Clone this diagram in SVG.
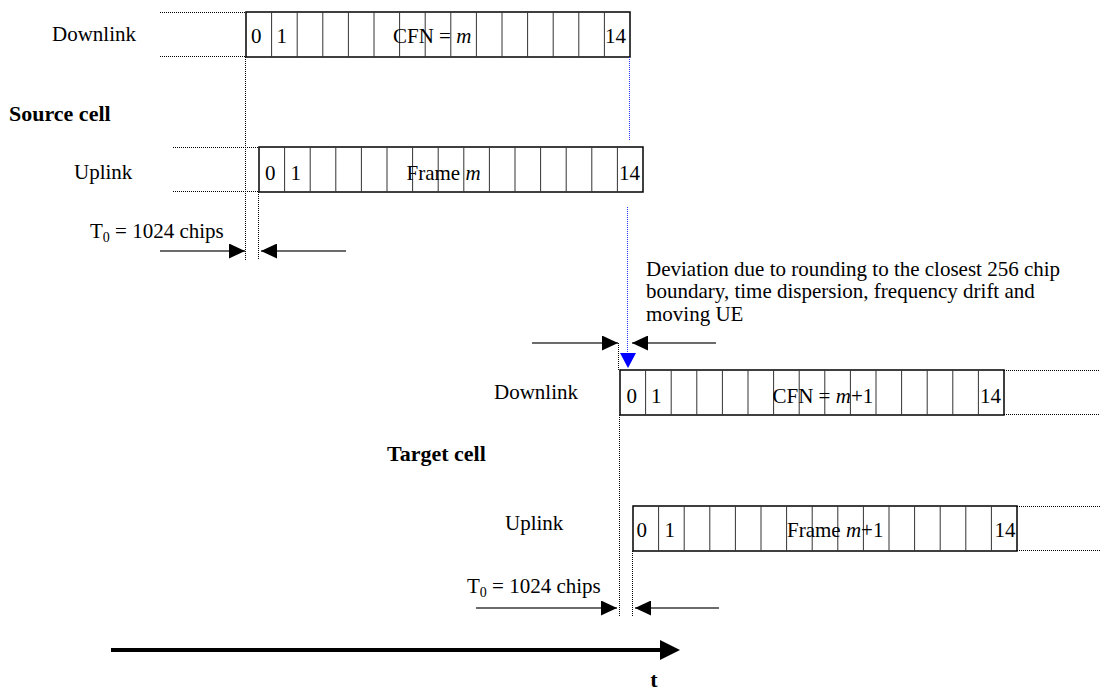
<svg xmlns="http://www.w3.org/2000/svg" width="1101" height="691" viewBox="0 0 1101 691">
<style>
text{font-family:"Liberation Serif","Times New Roman",serif;font-size:21px;fill:#000}
.b{font-weight:bold;font-size:22px}
.i{font-style:italic}
.fr{fill:#fff;stroke:#000;stroke-width:1.5}
.dv{fill:none;stroke:#333;stroke-width:1}
.dot{fill:none;stroke:#000;stroke-width:1;stroke-dasharray:1 1}
.bdot{fill:none;stroke:#2233ff;stroke-width:1;stroke-dasharray:1 1}
.ar{fill:none;stroke:#3a3a3a;stroke-width:1.3;marker-end:url(#ah)}
</style>
<defs>
<marker id="ah" markerUnits="userSpaceOnUse" markerWidth="16" markerHeight="15" refX="16" refY="7.5" orient="auto"><path d="M0,0L16,7.5L0,15z" fill="#000"/></marker>
<marker id="bah" markerUnits="userSpaceOnUse" markerWidth="20" markerHeight="20" refX="0" refY="10" orient="auto"><path d="M0,0L20,10L0,20z" fill="#000"/></marker>
<g id="frame">
<rect class="fr" x="0" y="0" width="384" height="45"/>
<path class="dv" d="M25.6,0v45M51.2,0v45M76.8,0v45M102.4,0v45M128,0v45M153.6,0v45M179.2,0v45M204.8,0v45M230.4,0v45M256,0v45M281.6,0v45M307.2,0v45M332.8,0v45M358.4,0v45"/>
</g>
</defs>

<g id="labels">
<text x="52" y="41">Downlink</text>
<text class="b" x="9" y="121">Source cell</text>
<text x="74" y="179">Uplink</text>
<text x="90" y="238">T<tspan dy="4" font-size="14">0</tspan><tspan dy="-4"> = 1024 chips</tspan></text>
<text x="646" y="276">Deviation due to rounding to the closest 256 chip</text>
<text x="646" y="298">boundary, time dispersion, frequency drift and</text>
<text x="646" y="321">moving UE</text>
<text x="494" y="399">Downlink</text>
<text class="b" x="387" y="461">Target cell</text>
<text x="505" y="530">Uplink</text>
<text x="467" y="593">T<tspan dy="4" font-size="14">0</tspan><tspan dy="-4"> = 1024 chips</tspan></text>
<text class="b" x="654" y="687" text-anchor="middle">t</text>
</g>

<g id="source-downlink">
<use href="#frame" x="246" y="12"/>
<text x="251" y="43">0</text>
<text x="276.5" y="43">1</text>
<text x="393" y="43">CFN = <tspan class="i">m</tspan></text>
<text x="605" y="43">14</text>
</g>

<g id="source-uplink">
<use href="#frame" x="259" y="147"/>
<text x="265" y="180">0</text>
<text x="290.5" y="180">1</text>
<text x="406.5" y="180">Frame <tspan class="i">m</tspan></text>
<text x="619" y="180">14</text>
</g>

<g id="target-downlink">
<use href="#frame" x="620" y="370"/>
<text x="626.5" y="403">0</text>
<text x="651" y="403">1</text>
<text x="772.5" y="403">CFN = <tspan class="i">m</tspan>+1</text>
<text x="980" y="403">14</text>
</g>

<g id="target-uplink">
<use href="#frame" x="633" y="506"/>
<text x="636.5" y="537">0</text>
<text x="664.5" y="537">1</text>
<text x="787" y="537">Frame <tspan class="i">m</tspan>+1</text>
<text x="994.5" y="537">14</text>
</g>

<g id="connectors">
<path class="dot" d="M160,12.5H246M160,56.5H246M173,147.5H259M173,191.5H259"/>
<path class="dot" d="M1004,370.5H1099M1004,414.5H1099M1017,506.5H1101M1017,550.5H1101"/>
<path class="dot" d="M245.5,57V260M258.5,192V260"/>
<path class="dot" d="M618.5,343V370M619.5,415V617M632.5,551V617"/>
<path class="bdot" d="M629.5,57V141M627.5,207V354"/>
<polygon points="620,353 636,353 628,368" fill="#0000ff"/>
<line class="ar" x1="160" y1="251" x2="245" y2="251"/>
<line class="ar" x1="346" y1="251" x2="261" y2="251"/>
<line class="ar" x1="532" y1="343" x2="618" y2="343"/>
<line class="ar" x1="716" y1="343" x2="632" y2="343"/>
<line class="ar" x1="476" y1="608" x2="617" y2="608"/>
<line class="ar" x1="719" y1="608" x2="635" y2="608"/>
<line x1="111" y1="650" x2="660" y2="650" stroke="#000" stroke-width="4" marker-end="url(#bah)"/>
</g>
</svg>
